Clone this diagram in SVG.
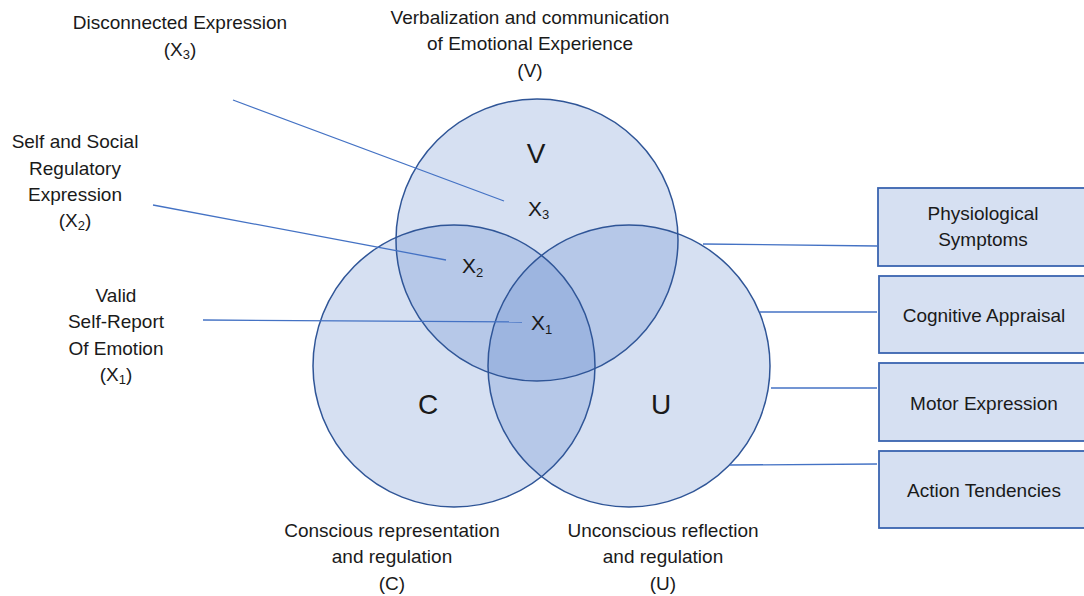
<svg xmlns="http://www.w3.org/2000/svg" width="1084" height="596" viewBox="0 0 1084 596">
<style>
text{font-family:"Liberation Sans",Arial,sans-serif;fill:#1a1a1a}
.t{font-size:19px;text-anchor:middle}
.big{font-size:28px;text-anchor:middle}
.x{font-size:21px}
.sub{font-size:13px}
.circ{fill:#4472c4;fill-opacity:0.22;stroke:none}
.ring{fill:none;stroke:#2f5597;stroke-width:1.5}
.box{fill:#d6e0f2;stroke:#3a64b0;stroke-width:1.8}
.ln{stroke:#4472c4;stroke-width:1.3;fill:none}
</style>
<rect width="1084" height="596" fill="#ffffff"/>
<g id="venn">
<circle class="circ" cx="537" cy="240" r="141"/>
<circle class="circ" cx="454" cy="366" r="141"/>
<circle class="circ" cx="629" cy="366" r="141"/>
<circle class="ring" cx="537" cy="240" r="141"/>
<circle class="ring" cx="454" cy="366" r="141"/>
<circle class="ring" cx="629" cy="366" r="141"/>
</g>
<g id="connectors">
<line class="ln" x1="233" y1="100" x2="504" y2="201"/>
<line class="ln" x1="153" y1="205" x2="446" y2="260"/>
<line class="ln" x1="203" y1="320" x2="522" y2="322"/>
<line class="ln" x1="703" y1="244" x2="877" y2="246"/>
<line class="ln" x1="760" y1="312" x2="877" y2="312"/>
<line class="ln" x1="771" y1="388" x2="877" y2="388"/>
<line class="ln" x1="730" y1="465" x2="877" y2="464"/>
</g>
<g id="label-V"><text class="big" x="536" y="163">V</text></g>
<g id="label-C"><text class="big" x="428" y="414">C</text></g>
<g id="label-U"><text class="big" x="661" y="414">U</text></g>
<g id="label-X3"><text class="x" x="528" y="216">X<tspan class="sub" dy="3">3</tspan></text></g>
<g id="label-X2"><text class="x" x="462" y="273">X<tspan class="sub" dy="4">2</tspan></text></g>
<g id="label-X1"><text class="x" x="531" y="330">X<tspan class="sub" dy="4">1</tspan></text></g>
<g id="disconnected">
<text class="t" x="180" y="29">Disconnected Expression</text>
<text class="t" x="180" y="56">(X<tspan class="sub" dy="3">3</tspan><tspan dy="-3">)</tspan></text>
</g>
<g id="verbalization">
<text class="t" x="530" y="24">Verbalization and communication</text>
<text class="t" x="530" y="50">of Emotional Experience</text>
<text class="t" x="530" y="77">(V)</text>
</g>
<g id="self-social">
<text class="t" x="75" y="148">Self and Social</text>
<text class="t" x="75" y="175">Regulatory</text>
<text class="t" x="75" y="201">Expression</text>
<text class="t" x="75" y="227">(X<tspan class="sub" dy="3">2</tspan><tspan dy="-3">)</tspan></text>
</g>
<g id="valid">
<text class="t" x="116" y="302">Valid</text>
<text class="t" x="116" y="328">Self-Report</text>
<text class="t" x="116" y="355">Of Emotion</text>
<text class="t" x="116" y="381">(X<tspan class="sub" dy="3">1</tspan><tspan dy="-3">)</tspan></text>
</g>
<g id="conscious">
<text class="t" x="392" y="537">Conscious representation</text>
<text class="t" x="392" y="563">and regulation</text>
<text class="t" x="392" y="590">(C)</text>
</g>
<g id="unconscious">
<text class="t" x="663" y="537">Unconscious reflection</text>
<text class="t" x="663" y="563">and regulation</text>
<text class="t" x="663" y="590">(U)</text>
</g>
<g id="box-physio">
<rect class="box" x="878" y="188" width="210" height="78"/>
<text class="t" x="983" y="220">Physiological</text>
<text class="t" x="983" y="246">Symptoms</text>
</g>
<g id="box-cognitive">
<rect class="box" x="879" y="276" width="210" height="77"/>
<text class="t" x="984" y="322">Cognitive Appraisal</text>
</g>
<g id="box-motor">
<rect class="box" x="879" y="363" width="210" height="78"/>
<text class="t" x="984" y="410">Motor Expression</text>
</g>
<g id="box-action">
<rect class="box" x="879" y="451" width="210" height="77"/>
<text class="t" x="984" y="497">Action Tendencies</text>
</g>
</svg>
